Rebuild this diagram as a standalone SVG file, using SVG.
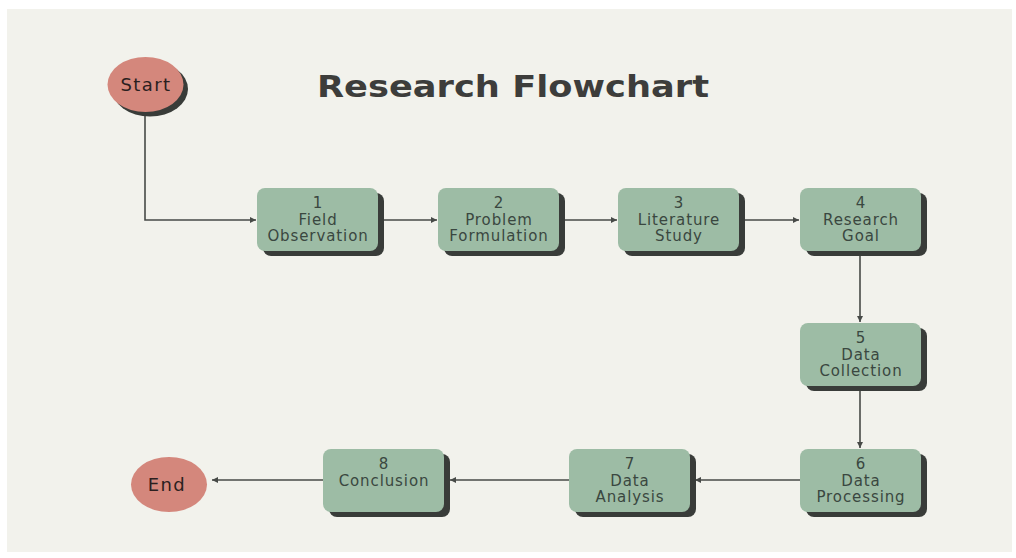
<svg xmlns="http://www.w3.org/2000/svg" width="1016" height="558" viewBox="0 0 1016 558">
  <style>
    .bg { fill: #f2f2ec; }
    .box { fill: #9dbca5; }
    .shadow { fill: #393c39; }
    .term { fill: #d4877c; }
    .btxt { font-family: "DejaVu Sans", sans-serif; font-size: 15px; fill: #3a4740; text-anchor: middle; letter-spacing: 0.9px; }
    .ttxt { font-family: "DejaVu Sans", sans-serif; font-size: 18px; fill: #2b1f1f; text-anchor: middle; letter-spacing: 1.4px; }
    .title { font-family: "DejaVu Sans", sans-serif; font-weight: bold; font-size: 30px; fill: #3d3d3b; }
    .conn { stroke: #474a47; stroke-width: 1.6; fill: none; marker-end: url(#arr); }
  </style>
  <defs>
    <marker id="arr" viewBox="0 0 10 10" refX="10" refY="5" markerWidth="7" markerHeight="6" markerUnits="userSpaceOnUse" orient="auto">
      <path d="M0,0 L10,5 L0,10 z" fill="#474a47"/>
    </marker>
  </defs>
  <rect x="0" y="0" width="1016" height="558" fill="#ffffff"/>
  <rect class="bg" x="7" y="9" width="1005" height="543"/>

  <text class="title" x="317" y="97" textLength="392" lengthAdjust="spacingAndGlyphs">Research Flowchart</text>

  <g id="connectors">
    <path class="conn" d="M145,116 V220 H256"/>
    <path class="conn" d="M383,220 H437"/>
    <path class="conn" d="M564,220 H617"/>
    <path class="conn" d="M745,220 H799"/>
    <path class="conn" d="M860,256 V322"/>
    <path class="conn" d="M860,391 V448"/>
    <path class="conn" d="M800,480 H695"/>
    <path class="conn" d="M569,480 H450"/>
    <path class="conn" d="M323,480 H212"/>
  </g>

  <g id="start">
    <ellipse class="shadow" cx="150" cy="89" rx="38" ry="27.5"/>
    <ellipse class="term" cx="145.5" cy="84.5" rx="38" ry="27.5"/>
    <text class="ttxt" x="146" y="91">Start</text>
  </g>

  <g id="end">
    <ellipse class="term" cx="169" cy="484.5" rx="38" ry="27.5"/>
    <text class="ttxt" x="167" y="490.5">End</text>
  </g>

  <g id="n1">
    <rect class="shadow" x="263" y="193" width="121" height="63" rx="8"/>
    <rect class="box" x="257" y="188" width="121" height="63" rx="8"/>
    <text class="btxt" x="318" y="208">1</text>
    <text class="btxt" x="318" y="224.5">Field</text>
    <text class="btxt" x="318" y="241">Observation</text>
  </g>

  <g id="n2">
    <rect class="shadow" x="444" y="193" width="121" height="63" rx="8"/>
    <rect class="box" x="438" y="188" width="121" height="63" rx="8"/>
    <text class="btxt" x="499" y="208">2</text>
    <text class="btxt" x="499" y="224.5">Problem</text>
    <text class="btxt" x="499" y="241">Formulation</text>
  </g>

  <g id="n3">
    <rect class="shadow" x="624" y="193" width="121" height="63" rx="8"/>
    <rect class="box" x="618" y="188" width="121" height="63" rx="8"/>
    <text class="btxt" x="679" y="208">3</text>
    <text class="btxt" x="679" y="224.5">Literature</text>
    <text class="btxt" x="679" y="241">Study</text>
  </g>

  <g id="n4">
    <rect class="shadow" x="806" y="193" width="121" height="63" rx="8"/>
    <rect class="box" x="800" y="188" width="121" height="63" rx="8"/>
    <text class="btxt" x="861" y="208">4</text>
    <text class="btxt" x="861" y="224.5">Research</text>
    <text class="btxt" x="861" y="241">Goal</text>
  </g>

  <g id="n5">
    <rect class="shadow" x="806" y="328" width="121" height="63" rx="8"/>
    <rect class="box" x="800" y="323" width="121" height="63" rx="8"/>
    <text class="btxt" x="861" y="343">5</text>
    <text class="btxt" x="861" y="359.5">Data</text>
    <text class="btxt" x="861" y="376">Collection</text>
  </g>

  <g id="n6">
    <rect class="shadow" x="806" y="454" width="121" height="63" rx="8"/>
    <rect class="box" x="800" y="449" width="121" height="63" rx="8"/>
    <text class="btxt" x="861" y="469">6</text>
    <text class="btxt" x="861" y="485.5">Data</text>
    <text class="btxt" x="861" y="502">Processing</text>
  </g>

  <g id="n7">
    <rect class="shadow" x="575" y="454" width="121" height="63" rx="8"/>
    <rect class="box" x="569" y="449" width="121" height="63" rx="8"/>
    <text class="btxt" x="630" y="469">7</text>
    <text class="btxt" x="630" y="485.5">Data</text>
    <text class="btxt" x="630" y="502">Analysis</text>
  </g>

  <g id="n8">
    <rect class="shadow" x="329" y="454" width="121" height="63" rx="8"/>
    <rect class="box" x="323" y="449" width="121" height="63" rx="8"/>
    <text class="btxt" x="384" y="469">8</text>
    <text class="btxt" x="384" y="485.5">Conclusion</text>
  </g>
</svg>
